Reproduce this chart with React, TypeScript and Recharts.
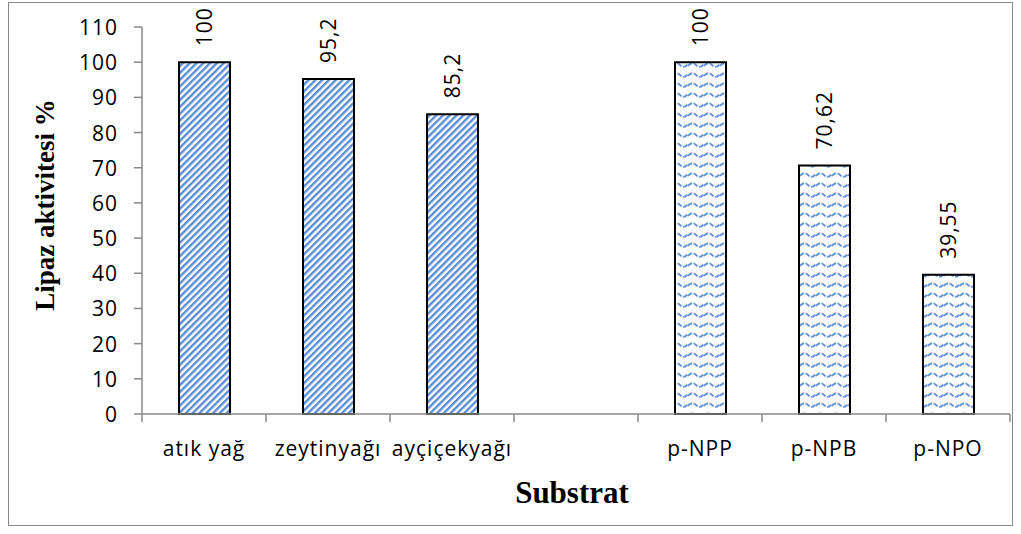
import { BarChart, Bar, XAxis, YAxis, Cell, LabelList, Customized } from "recharts";

// Natural oil substrates
const oilLabels = ["atık yağ", "zeytinyağı", "ayçiçekyağı"];
const oilValues = [100, 95.2, 85.2];

// p-nitrophenyl ester substrates
const esterLabels = ["p-NPP", "p-NPB", "p-NPO"];
const esterValues = [100, 70.62, 39.55];

const yTicks = [0, 10, 20, 30, 40, 50, 60, 70, 80, 90, 100, 110];

const W = 1021;
const H = 534;
const MARGIN = { top: 27, right: 11, bottom: 80, left: 82 };
const Y_AXIS_W = 60;
const X_AXIS_H = 40;

const TICK_FONT = "'Open Sans', sans-serif";
const TICK_SIZE = 21;
const TICK_SPACING = 1;
const AXIS_COLOR = "#888888";

type Row = { name: string; value: number | null; kind: "oil" | "ester" | "gap" };

const rows: Row[] = [
  ...oilLabels.map((name, i) => ({ name, value: oilValues[i], kind: "oil" as const })),
  { name: "", value: null, kind: "gap" as const },
  ...esterLabels.map((name, i) => ({ name, value: esterValues[i], kind: "ester" as const })),
];

const plotLeft = MARGIN.left + Y_AXIS_W;
const plotRight = W - MARGIN.right;
const band = (plotRight - plotLeft) / rows.length;

const formatValue = (v: number) => String(v).replace(".", ",");

// category tick: label at band centre, tick marks at band edges
const CategoryTick = (props: any) => {
  const { x, y, payload, index } = props;
  const left = x - band / 2;
  const right = x + band / 2;
  return (
    <g>
      <line x1={left} y1={y - 8} x2={left} y2={y} stroke={AXIS_COLOR} strokeWidth={1.5} />
      {index === rows.length - 1 && (
        <line x1={right} y1={y - 8} x2={right} y2={y} stroke={AXIS_COLOR} strokeWidth={1.5} />
      )}
      <text
        x={x}
        y={y + 26}
        textAnchor="middle"
        dominantBaseline="central"
        fontFamily={TICK_FONT}
        fontSize={TICK_SIZE}
        letterSpacing={TICK_SPACING}
        fill="#000"
      >
        {payload.value}
      </text>
    </g>
  );
};

const ValueTick = (props: any) => {
  const { x, y, payload } = props;
  return (
    <text
      x={x}
      y={y}
      textAnchor="end"
      dominantBaseline="central"
      fontFamily={TICK_FONT}
      fontSize={TICK_SIZE}
      letterSpacing={TICK_SPACING}
      fill="#000"
    >
      {payload.value}
    </text>
  );
};

const ValueLabel = (props: any) => {
  const { x, y, width, value } = props;
  if (value == null) return null;
  const cx = x + width / 2;
  const ty = y - 16;
  return (
    <text
      x={cx}
      y={ty}
      transform={`rotate(-90, ${cx}, ${ty})`}
      textAnchor="start"
      dominantBaseline="central"
      fontFamily={TICK_FONT}
      fontSize={TICK_SIZE}
      letterSpacing={TICK_SPACING}
      fill="#000"
    >
      {formatValue(value)}
    </text>
  );
};

const Decorations = () => (
  <g>
    <defs>
      <pattern
        id="diag"
        patternUnits="userSpaceOnUse"
        width={4.8}
        height={4.8}
        patternTransform="rotate(45)"
      >
        <rect width={4.8} height={4.8} fill="#ffffff" />
        <rect width={2.4} height={4.8} fill="#5a8dd2" />
      </pattern>
      <pattern id="wave" patternUnits="userSpaceOnUse" width={16} height={10}>
        <rect width={16} height={10} fill="#ffffff" />
        <path
          d="M0 6 Q4 1 8 5 T16 4"
          fill="none"
          stroke="#6394d6"
          strokeWidth={1.8}
          strokeDasharray="5 1.5"
        />
      </pattern>
    </defs>
    <text
      x={45}
      y={205}
      transform="rotate(-90, 45, 205)"
      textAnchor="middle"
      dominantBaseline="central"
      fontFamily="'Liberation Serif', 'Times New Roman', serif"
      fontWeight="bold"
      fontSize={27}
      fill="#000"
    >
      Lipaz aktivitesi %
    </text>
    <text
      x={572}
      y={492}
      textAnchor="middle"
      dominantBaseline="central"
      fontFamily="'Liberation Serif', 'Times New Roman', serif"
      fontWeight="bold"
      fontSize={31}
      fill="#000"
    >
      Substrat
    </text>
  </g>
);

export default function App() {
  return (
    <div style={{ position: "absolute", left: 0, top: 0, width: W, height: H, background: "#fff" }}>
      <div
        style={{
          position: "absolute",
          left: 8,
          top: 2,
          width: 1005,
          height: 524,
          border: `1.5px solid ${AXIS_COLOR}`,
          boxSizing: "border-box",
        }}
      />
      <div style={{ position: "absolute", left: 0, top: 0 }}>
        <BarChart width={W} height={H} data={rows} margin={MARGIN} barSize={51}>
          <Customized component={Decorations} />
          <XAxis
            dataKey="name"
            height={X_AXIS_H}
            interval={0}
            tickLine={false}
            axisLine={{ stroke: AXIS_COLOR, strokeWidth: 1.5 }}
            tick={<CategoryTick />}
          />
          <YAxis
            width={Y_AXIS_W}
            domain={[0, 110]}
            ticks={yTicks}
            interval={0}
            tickSize={8}
            tickMargin={16}
            axisLine={{ stroke: AXIS_COLOR, strokeWidth: 1.5 }}
            tickLine={{ stroke: AXIS_COLOR, strokeWidth: 1.5 }}
            tick={<ValueTick />}
          />
          <Bar dataKey="value" stroke="#000" strokeWidth={2} isAnimationActive={false}>
            {rows.map((r, i) => (
              <Cell key={i} fill={r.kind === "oil" ? "url(#diag)" : "url(#wave)"} />
            ))}
            <LabelList dataKey="value" content={<ValueLabel />} />
          </Bar>
        </BarChart>
      </div>
    </div>
  );
}
